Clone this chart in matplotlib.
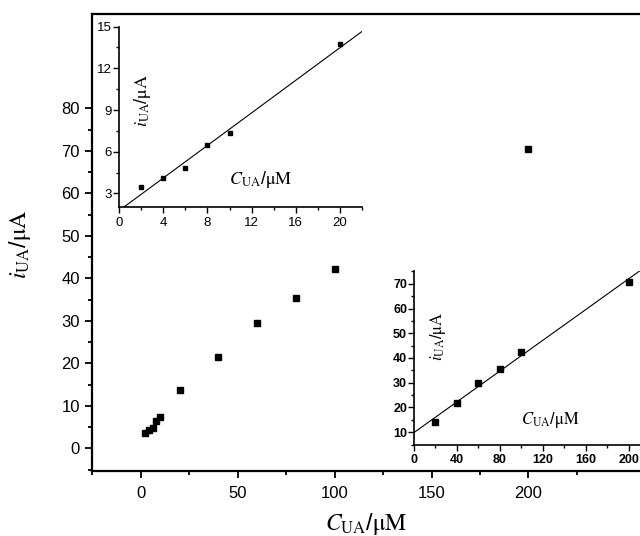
import numpy as np
import matplotlib
matplotlib.use("Agg")
import matplotlib.pyplot as plt
from matplotlib.ticker import FixedLocator, MultipleLocator

plt.rcParams['mathtext.fontset'] = 'stix'
plt.rcParams['font.family'] = ['Liberation Sans', 'DejaVu Sans']

# uric acid calibration data (concentration in uM, peak current in uA)
conc_all = [2, 4, 6, 8, 10, 20, 40, 60, 80, 100, 200]
curr_all = [3.5, 4.2, 4.8, 6.4, 7.3, 13.8, 21.4, 29.5, 35.3, 42.2, 70.5]

conc_low = [2, 4, 6, 8, 10, 20]
curr_low = [3.43, 4.12, 4.8, 6.47, 7.32, 13.72]

conc_high = [20, 40, 60, 80, 100, 200]
curr_high = [14.05, 21.7, 29.8, 35.7, 42.4, 70.8]

ylab = r'$i_{\mathrm{UA}}$/$\mathrm{\mu A}$'
xlab = r'$C_{\mathrm{UA}}$/$\mathrm{\mu M}$'

fig = plt.figure(figsize=(6.4, 5.36), dpi=100)

# main panel (runs past the right edge of the figure)
ax = fig.add_axes([0.1445, 0.1222, 0.893, 0.8517])
ax.plot(conc_all, curr_all, 's', color='black', ms=4.8)
ax.set_xlim(-25, 270)
ax.set_ylim(-5.22, 102.2)
ax.xaxis.set_major_locator(FixedLocator([0, 50, 100, 150, 200]))
ax.xaxis.set_minor_locator(FixedLocator([-25, 25, 75, 125, 175, 225]))
ax.yaxis.set_major_locator(FixedLocator(np.arange(0, 81, 10)))
ax.yaxis.set_minor_locator(FixedLocator(np.arange(-5, 80, 10)))
ax.tick_params(which='both', direction='out', width=1.3, labelsize=12)
ax.tick_params(which='major', length=5)
ax.tick_params(which='minor', length=3)
ax.tick_params(axis='y', pad=4)
ax.tick_params(axis='x', pad=6)
for s in ax.spines.values():
    s.set_linewidth(1.6)
fig.text(20 / 640, 1 - 244 / 536, ylab, rotation=90, fontsize=17,
         ha='center', va='center')
fig.text(366 / 640, 1 - 524 / 536, xlab, fontsize=17,
         ha='center', va='center')

# inset: low concentration range
ax1 = fig.add_axes([0.1859, 0.6133, 0.380, 0.337])
ax1.plot(conc_low, curr_low, 's', color='black', ms=3.2)
k1, b1 = np.polyfit(conc_low, curr_low, 1)
xs1 = np.array([0, 22])
ax1.plot(xs1, k1 * xs1 + b1, color='black', lw=0.8)
ax1.set_xlim(0, 22)
ax1.set_ylim(2, 15)
ax1.xaxis.set_major_locator(MultipleLocator(4))
ax1.xaxis.set_minor_locator(MultipleLocator(2))
ax1.yaxis.set_major_locator(FixedLocator([3, 6, 9, 12, 15]))
ax1.yaxis.set_minor_locator(FixedLocator([4.5, 7.5, 10.5, 13.5]))
ax1.tick_params(which='both', direction='out', width=1, labelsize=9.5)
ax1.tick_params(which='major', length=4)
ax1.tick_params(which='minor', length=2)
ax1.tick_params(axis='y', pad=1)
ax1.tick_params(axis='x', pad=3)
ax1.spines['top'].set_visible(False)
ax1.spines['right'].set_visible(False)
for s in ('left', 'bottom'):
    ax1.spines[s].set_linewidth(1.2)
ax1.text(0.095, 0.594, ylab, rotation=90, fontsize=13,
         ha='center', va='center', transform=ax1.transAxes)
ax1.text(0.584, 0.151, xlab, fontsize=13,
         ha='center', va='center', transform=ax1.transAxes)

# inset: high concentration range
ax2 = fig.add_axes([0.6469, 0.1707, 0.3856, 0.3228])
ax2.plot(conc_high, curr_high, 's', color='black', ms=4)
k2, b2 = np.polyfit(conc_high, curr_high, 1)
xs2 = np.array([0, 230])
ax2.plot(xs2, k2 * xs2 + b2, color='black', lw=0.8)
ax2.set_xlim(0, 230)
ax2.set_ylim(5, 75)
ax2.xaxis.set_major_locator(MultipleLocator(40))
ax2.xaxis.set_minor_locator(MultipleLocator(20))
ax2.yaxis.set_major_locator(MultipleLocator(10))
ax2.yaxis.set_minor_locator(MultipleLocator(5))
ax2.tick_params(which='both', direction='out', width=1, labelsize=9)
ax2.tick_params(which='major', length=4)
ax2.tick_params(which='minor', length=2)
ax2.tick_params(axis='y', pad=1)
ax2.tick_params(axis='x', pad=3)
for lbl in ax2.get_xticklabels() + ax2.get_yticklabels():
    lbl.set_fontweight('bold')
ax2.spines['top'].set_visible(False)
ax2.spines['right'].set_visible(False)
for s in ('left', 'bottom'):
    ax2.spines[s].set_linewidth(1.2)
ax2.text(0.097, 0.627, ylab, rotation=90, fontsize=12,
         ha='center', va='center', transform=ax2.transAxes)
ax2.text(0.551, 0.142, xlab, fontsize=12,
         ha='center', va='center', transform=ax2.transAxes)

fig.savefig('out.png', dpi=100)
